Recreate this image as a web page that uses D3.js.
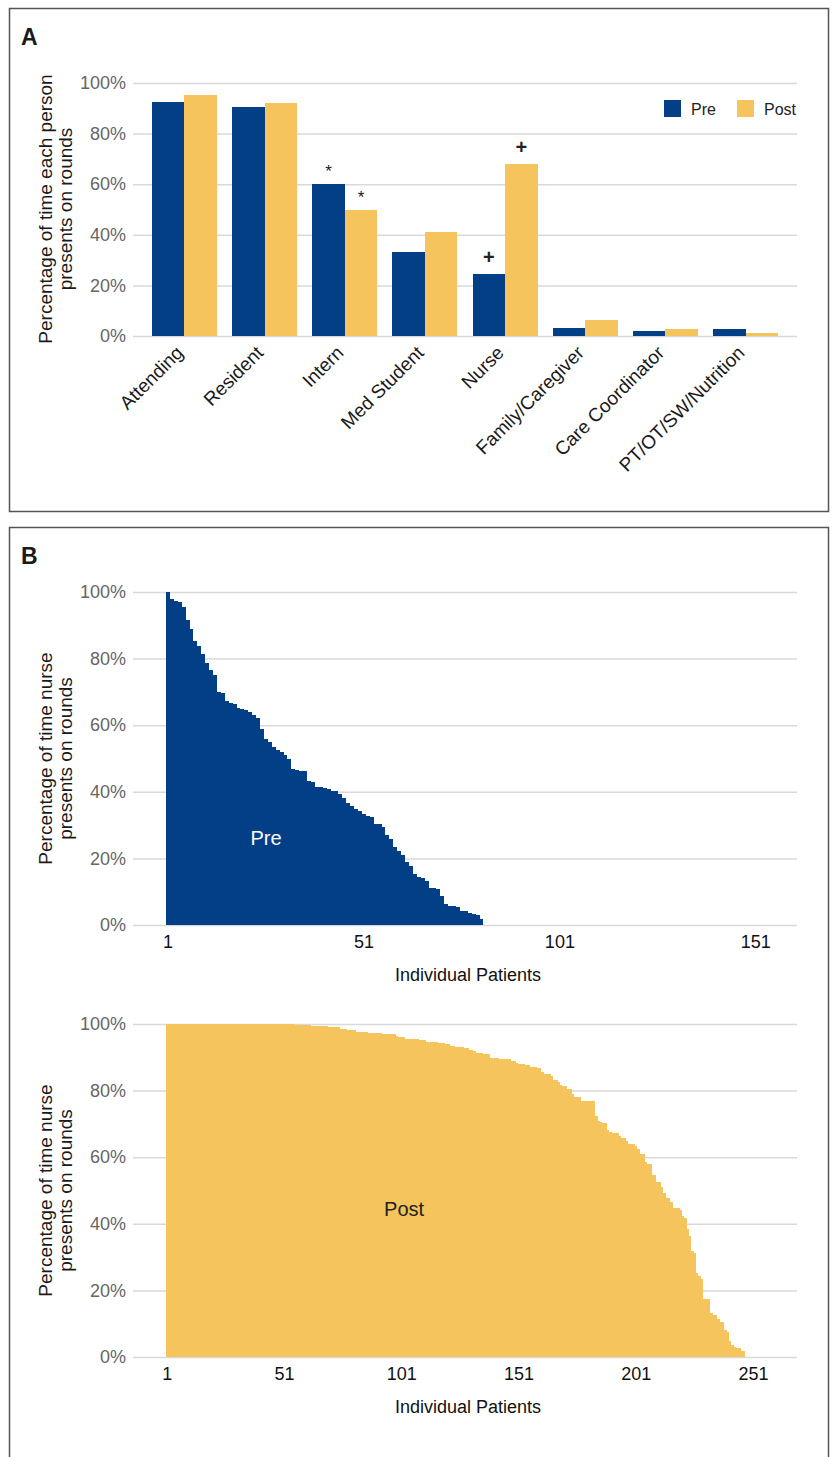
<!DOCTYPE html>
<html>
<head>
<meta charset="utf-8">
<script src="https://cdnjs.cloudflare.com/ajax/libs/d3/7.8.5/d3.min.js"></script>
<style>
  body { margin: 0; background: #fff; }
  svg text { font-family: "Liberation Sans", Arial, Helvetica, sans-serif; }
</style>
</head>
<body>
<svg id="fig" width="836" height="1457"></svg>
<script>

////////////////////////////// data //////
var roles = ['Attending', 'Resident', 'Intern', 'Med Student', 'Nurse',
             'Family/Caregiver', 'Care Coordinator', 'PT/OT/SW/Nutrition'];
var seriesNames = ['Pre', 'Post'];
var prePct  = [92.5, 90.5, 60.0, 33.2, 24.5, 3.2, 2.0, 2.8];
var postPct = [95.3, 92.1, 49.8, 41.1, 68.0, 6.3, 2.8, 1.2];
var pctTicks = [0, 20, 40, 60, 80, 100];

// significance marks above bars
var sigMarks = [
  {role: 'Intern', series: 'Pre',  sym: '*'},
  {role: 'Intern', series: 'Post', sym: '*'},
  {role: 'Nurse',  series: 'Pre',  sym: '+'},
  {role: 'Nurse',  series: 'Post', sym: '+'}
];

// % of time the nurse presented, one value per patient (sorted)
var nursePre = [
  100, 97.8, 97.2, 97.0, 95.4, 91.5, 88.8, 85.2, 83.7, 81.3,
  78.6, 76.5, 75.0, 69.9, 69.6, 67.2, 66.6, 66.3, 65.1, 64.8,
  64.5, 63.9, 63.0, 62.1, 58.8, 55.8, 54.9, 53.4, 52.5, 51.9,
  51.0, 49.8, 46.8, 46.5, 46.2, 46.2, 43.2, 42.9, 41.4, 41.3,
  41.0, 40.7, 40.2, 40.2, 39.3, 38.1, 36.6, 35.7, 34.8, 34.2,
  33.3, 32.7, 32.4, 30.3, 30.3, 29.4, 27.0, 25.8, 23.4, 22.2,
  21.0, 18.9, 17.7, 15.3, 14.4, 14.1, 13.2, 11.1, 11.1, 10.8,
  8.7, 6.3, 5.7, 5.7, 5.4, 4.2, 4.2, 3.6, 3.3, 3.0,
  1.8
];

var nursePost = [
  100, 100, 100, 100, 100, 100, 100, 100, 100, 100, 100,
  100, 100, 100, 100, 100, 100, 100, 100, 100, 100, 100,
  100, 100, 100, 100, 100, 100, 100, 100, 100, 100, 100,
  100, 100, 100, 100, 100, 100, 100, 100, 100, 100, 100,
  100, 100, 100, 100, 100, 100, 100, 100, 100, 100, 100,
  99.7, 99.7, 99.7, 99.7, 99.7, 99.7, 99.7,
  99.4, 99.4, 99.4, 99.4, 99.4, 99.4, 99.4,
  99.1, 99.1, 99.1, 99.1, 99.1,
  98.5, 98.5, 98.5,
  98.2, 98.2, 98.2, 98.2,
  97.6, 97.6, 97.6, 97.6, 97.6,
  97.3, 97.3, 97.3, 97.3, 97.3, 97.3,
  97.0, 97.0, 97.0, 97.0, 97.0, 97.0,
  96.4,
  96.1, 96.1, 96.1,
  95.5, 95.5, 95.5, 95.5, 95.5, 95.5,
  95.2, 95.2, 95.2,
  94.6, 94.6, 94.6, 94.6, 94.6,
  94.3, 94.3, 94.3,
  94.0, 94.0,
  93.4, 93.4,
  93.1, 93.1, 93.1, 93.1,
  92.8, 92.8,
  92.2, 92.2,
  91.9,
  91.3, 91.3, 91.3,
  91.0, 91.0, 91.0,
  89.8, 89.8, 89.8, 89.8,
  89.5, 89.5, 89.5, 89.5, 89.5,
  88.9, 88.9,
  88.3,
  88.0, 88.0, 88.0,
  87.7, 87.7,
  87.1, 87.1, 87.1,
  86.8, 86.8,
  85.5,
  84.9, 84.9, 84.9,
  84.3,
  83.1, 83.1,
  82.5, 81.6,
  81.3, 81.3,
  80.4, 80.4,
  78.9,
  78.0, 78.0, 78.0,
  76.8, 76.8, 76.8, 76.8, 76.8, 76.8,
  72.3, 70.8, 70.5, 70.2, 70.2,
  68.1, 67.5, 67.2, 67.2, 67.2,
  66.3, 65.7, 65.7, 64.8,
  63.9, 63.9, 63.9, 63.3, 62.4,
  60.9, 60.9, 58.5, 57.9, 57.9,
  54.6, 54.6, 52.5, 52.5, 51.0,
  49.2, 47.7, 47.7, 46.5,
  44.7, 44.7, 44.7, 44.1,
  42.3, 41.7, 38.4, 36.3,
  31.8, 31.2, 25.2, 24.3, 23.4,
  17.4, 17.4, 17.4,
  13.2, 12.6, 12.6, 11.4, 10.5, 10.5,
  8.1, 7.5, 4.8, 3.6, 3.0,
  2.7, 2.7, 1.8, 1.8
];

var preTickLabels  = [1, 51, 101, 151];
var postTickLabels = [1, 51, 101, 151, 201, 251];
var preSlots = 161;    // patient slots shown on the pre axis
var postSlots = 269;

var colors = {Pre: '#023F87', Post: '#F5C45C'};


var svg = d3.select('svg#fig');


////////////////////////////// helpers //////

function styleAxisText(sel) {
  sel.attr('font-family', null).attr('font-size', null);
}

function drawPctAxis(g, yScale, left, right) {
  var ax = d3.axisLeft(yScale)
    .tickValues(pctTicks)
    .tickFormat(function(d) { return d + '%'; })
    .tickSize(-(right - left))
    .tickPadding(7);

  var a = g.append('g')
    .attr('class', 'axis axis--y')
    .attr('transform', 'translate(' + left + ',0)')
    .call(ax)
    .call(styleAxisText);

  a.select('.domain').remove();
  a.selectAll('.tick line').attr('stroke', '#d9d9d9').attr('stroke-width', 1.5);
  a.selectAll('.tick text').attr('fill', '#666').style('font-size', '18px');
}

function drawYTitle(g, lines, x, yCenter) {
  var t = g.append('text')
    .attr('transform', 'translate(' + x + ',' + yCenter + ') rotate(-90)')
    .style('text-anchor', 'middle')
    .style('font-size', '19px')
    .attr('fill', '#1a1a1a');
  lines.forEach(function(l, i) {
    t.append('tspan').attr('x', 0).attr('dy', i == 0 ? 0 : 20).text(l);
  });
}

function panelFrame(y0, h, letter) {
  svg.append('rect')
    .attr('x', 9.5).attr('y', y0)
    .attr('width', 819).attr('height', h)
    .attr('fill', 'none').attr('stroke', '#555').attr('stroke-width', 1.5);
  svg.append('text')
    .attr('x', 21).attr('y', y0 + 36)
    .style('font-size', '23px')
    .style('font-weight', 'bold')
    .attr('fill', '#1a1a1a')
    .text(letter);
}


////////////////////////////// Panel A : grouped bars //////

function makeGroupedBars() {
  var left = 133, right = 797, top = 83, bottom = 336;
  var g = svg.append('g').attr('class', 'panelA');

  var y = d3.scaleLinear().domain([0, 100]).range([bottom, top]);
  var x0 = d3.scaleBand().domain(roles).range([left, right]).paddingInner(0.19).paddingOuter(0.235);
  var x1 = d3.scaleBand().domain(seriesNames).range([0, x0.bandwidth()]).padding(0);

  drawPctAxis(g, y, left, right);

  var rows = roles.map(function(r, i) {
    return {role: r, Pre: prePct[i], Post: postPct[i]};
  });

  var groups = g.selectAll('g.grp')
    .data(rows)
    .enter()
    .append('g')
    .attr('class', 'grp')
    .attr('transform', function(d) { return 'translate(' + x0(d.role) + ',0)'; });

  groups.selectAll('rect')
    .data(function(d) { return seriesNames.map(function(s) { return {s: s, v: d[s]}; }); })
    .enter()
    .append('rect')
    .attr('x', function(d) { return x1(d.s); })
    .attr('width', x1.bandwidth())
    .attr('y', function(d) { return y(d.v); })
    .attr('height', function(d) { return bottom - y(d.v); })
    .attr('fill', function(d) { return colors[d.s]; })
    .attr('shape-rendering', 'crispEdges');

  // * and + marks
  g.selectAll('text.sig')
    .data(sigMarks)
    .enter()
    .append('text')
    .attr('class', 'sig')
    .attr('x', function(d) { return x0(d.role) + x1(d.series) + x1.bandwidth() / 2; })
    .attr('y', function(d) {
      var v = (d.series == 'Pre' ? prePct : postPct)[roles.indexOf(d.role)];
      return y(v) - (d.sym == '*' ? 7 : 10);
    })
    .style('text-anchor', 'middle')
    .style('font-size', d => d.sym == '*' ? '17px' : '20px')
    .style('font-weight', d => d.sym == '+' ? 'bold' : 'normal')
    .attr('fill', '#222')
    .text(function(d) { return d.sym; });

  // category labels, rotated
  var xa = d3.axisBottom(x0).tickSize(0).tickPadding(0);
  var ax = g.append('g')
    .attr('class', 'axis axis--x')
    .attr('transform', 'translate(0,' + bottom + ')')
    .call(xa)
    .call(styleAxisText);
  ax.select('.domain').remove();
  ax.selectAll('.tick text')
    .attr('x', 0).attr('y', 0).attr('dy', 0)
    .attr('transform', 'translate(0,18) rotate(-45)')
    .style('text-anchor', 'end')
    .style('font-size', '19px')
    .attr('fill', '#1a1a1a');

  drawYTitle(g, ['Percentage of time each person', 'presents on rounds'], 52, 209);

  // legend
  var leg = g.append('g').attr('class', 'legend');
  var legX = {Pre: 664, Post: 737};
  seriesNames.forEach(function(s) {
    leg.append('rect').attr('x', legX[s]).attr('y', 100).attr('width', 17).attr('height', 17).attr('fill', colors[s]);
    leg.append('text').attr('x', legX[s] + 27).attr('y', 115).style('font-size', '16px').attr('fill', '#222').text(s);
  });
}


////////////////////////////// Panel B : per-patient staircase //////

function makeStaircase(values, slots, tickLabels, top, bottom, color, label, labelAt, labelColor) {
  var left = 133, right = 797, barLeft = 166;
  var g = svg.append('g').attr('class', 'stair');

  var y = d3.scaleLinear().domain([0, 100]).range([bottom, top]);
  var x = d3.scaleBand().domain(d3.range(1, slots + 1)).range([barLeft, right]).padding(0);

  drawPctAxis(g, y, left, right);

  g.append('g')
    .selectAll('rect')
    .data(values)
    .enter()
    .append('rect')
    .attr('x', function(d, i) { return x(i + 1); })
    .attr('width', x.bandwidth())
    .attr('y', function(d) { return y(d); })
    .attr('height', function(d) { return bottom - y(d); })
    .attr('fill', color)
    .attr('shape-rendering', 'crispEdges');

  var xa = d3.axisBottom(x).tickValues(tickLabels).tickSize(0).tickPadding(0);
  var ax = g.append('g')
    .attr('class', 'axis axis--x')
    .attr('transform', 'translate(0,' + bottom + ')')
    .call(xa)
    .call(styleAxisText);
  ax.select('.domain').remove();
  ax.selectAll('.tick text')
    .attr('y', 23).attr('dy', 0)
    .style('font-size', '18px')
    .attr('fill', '#111');

  g.append('text')
    .attr('x', 468).attr('y', bottom + 56)
    .style('text-anchor', 'middle')
    .style('font-size', '18px')
    .attr('fill', '#111')
    .text('Individual Patients');

  g.append('text')
    .attr('x', x(labelAt[0]) + x.bandwidth() / 2)
    .attr('y', y(labelAt[1]))
    .attr('dy', '0.35em')
    .style('text-anchor', 'middle')
    .style('font-size', '20px')
    .attr('fill', labelColor)
    .text(label);

  drawYTitle(g, ['Percentage of time nurse', 'presents on rounds'], 52, (top + bottom) / 2);
}


panelFrame(8.5, 503, 'A');
panelFrame(527.5, 940, 'B');

makeGroupedBars();
makeStaircase(nursePre, preSlots, preTickLabels, 592, 925, colors.Pre, 'Pre', [26, 26], '#fff');
makeStaircase(nursePost, postSlots, postTickLabels, 1024, 1357, colors.Post, 'Post', [102, 44.5], '#222');

</script>
</body>
</html>
